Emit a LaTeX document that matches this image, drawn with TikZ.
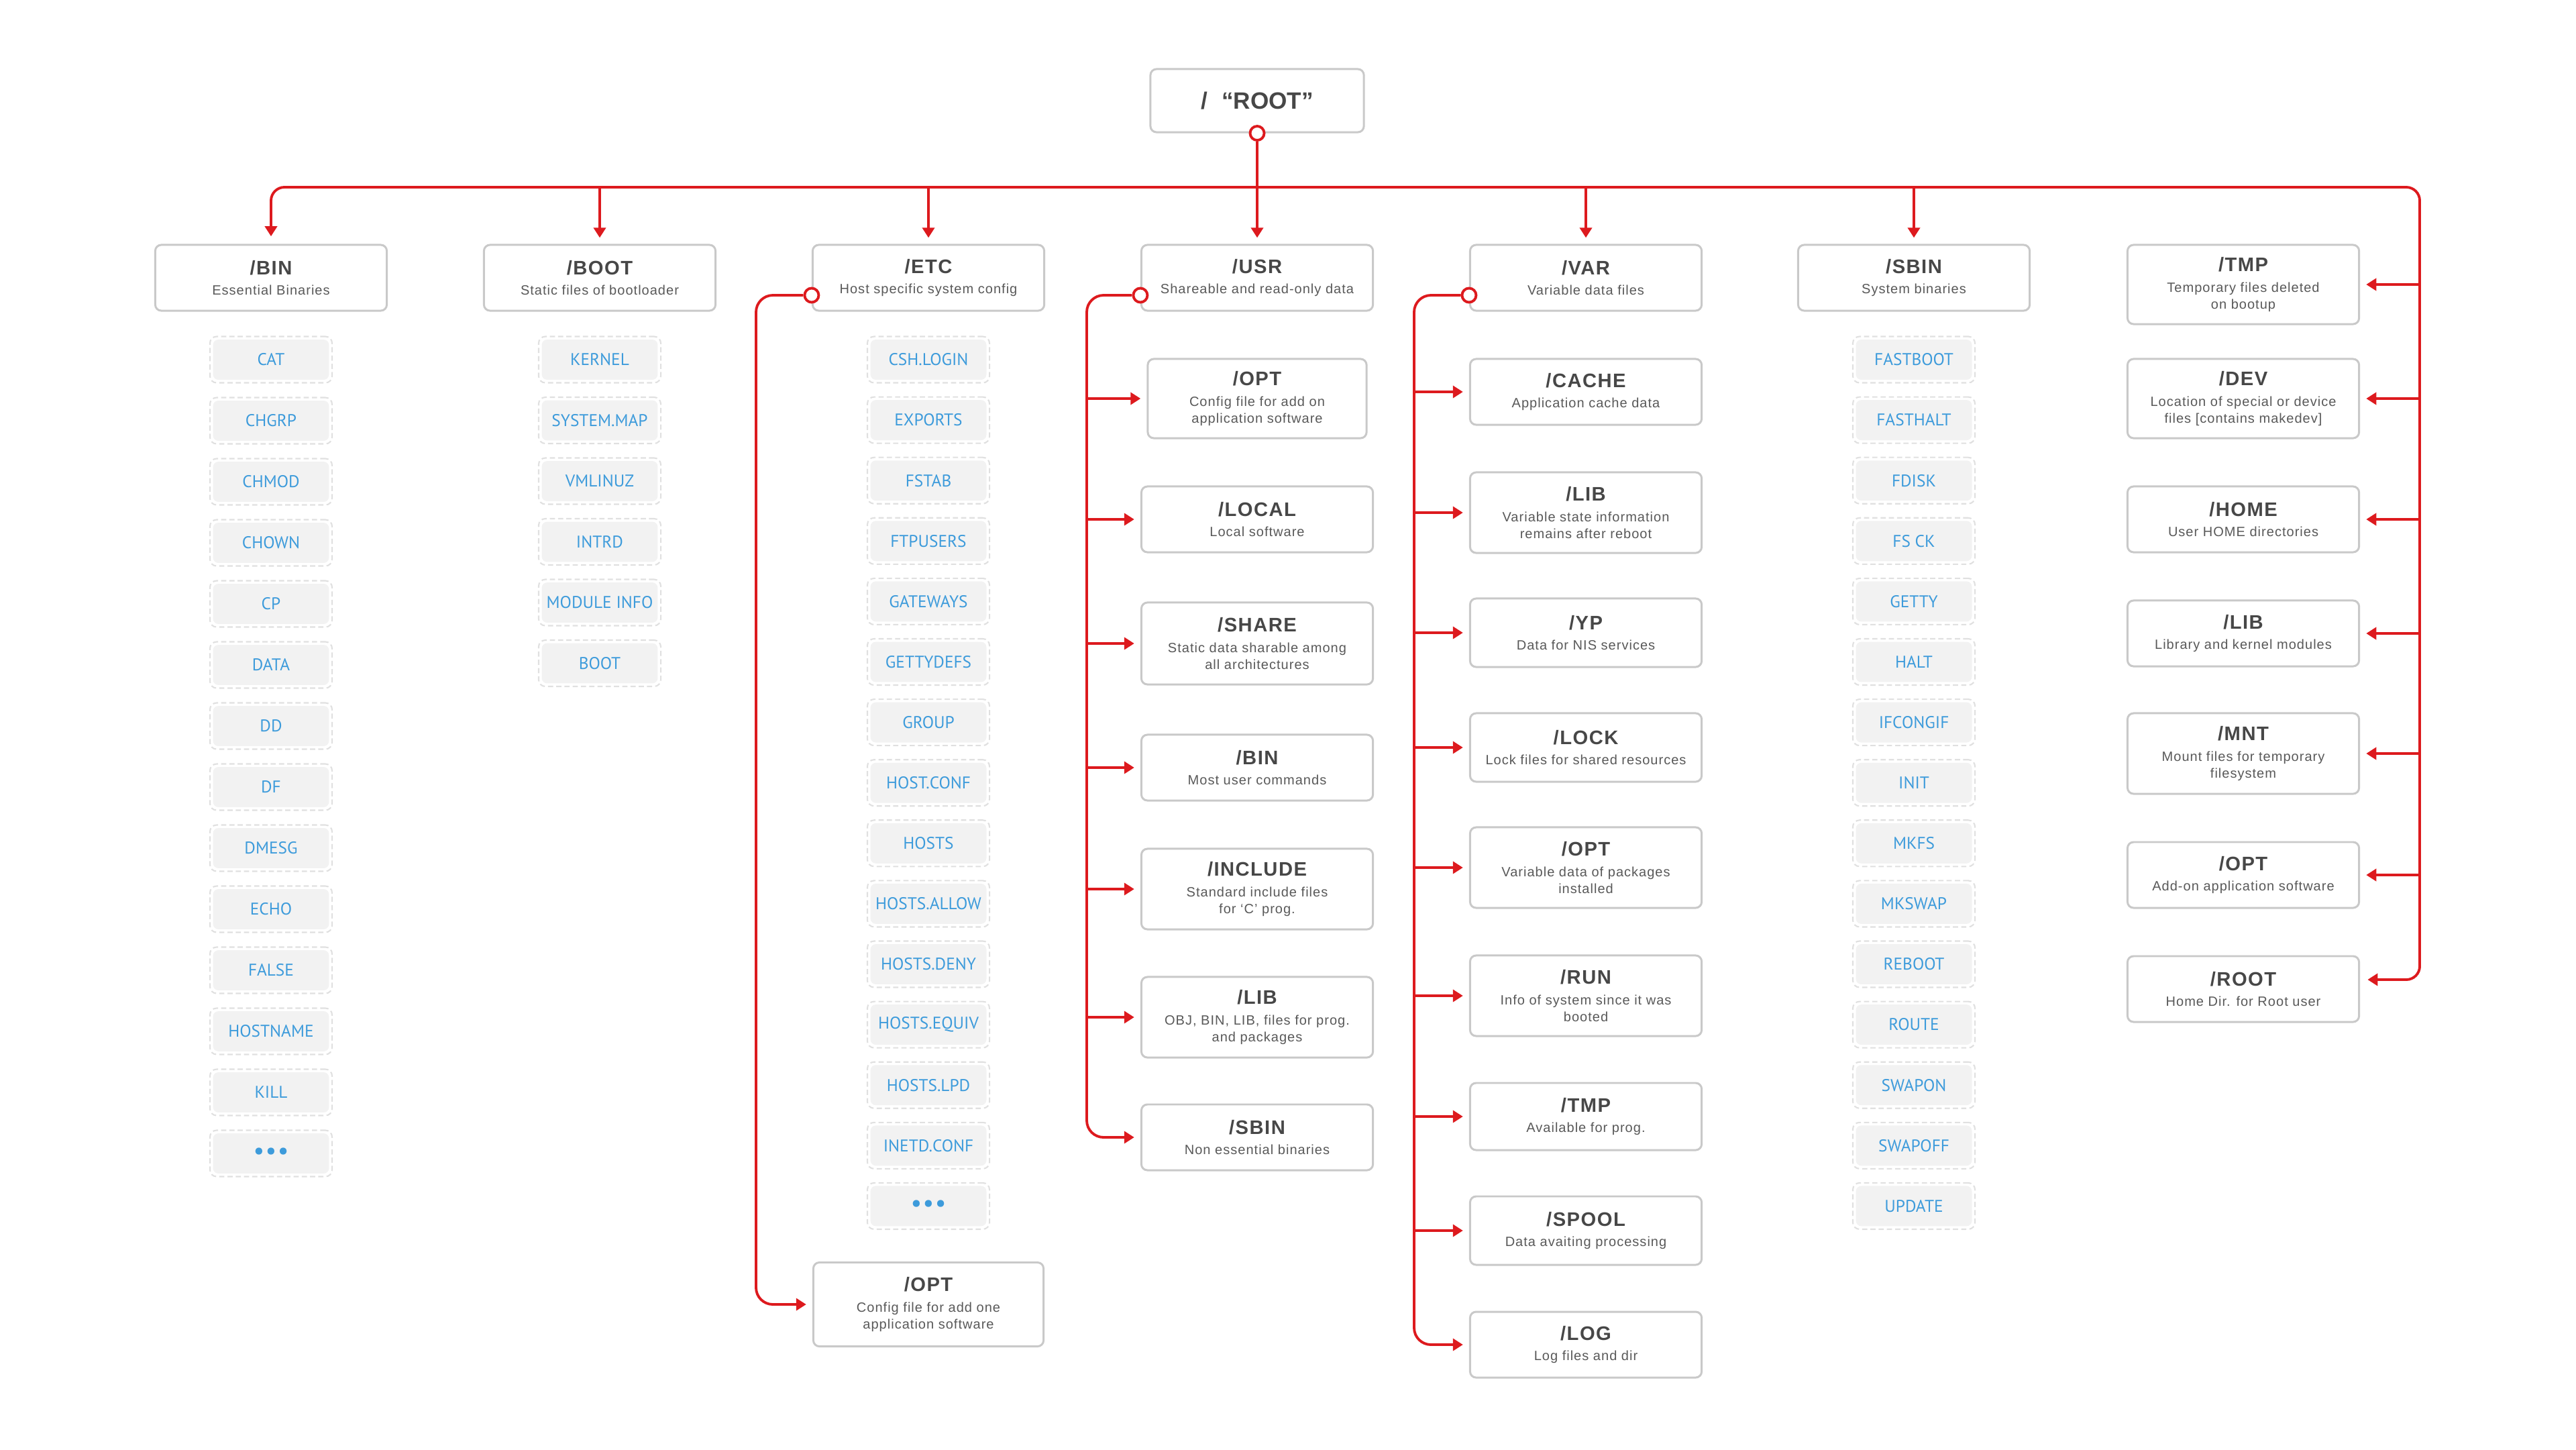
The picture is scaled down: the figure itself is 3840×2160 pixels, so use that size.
\documentclass[tikz,border=0pt]{standalone}
\usepackage{fontspec}
\setmainfont{Liberation Sans}
\newfontfamily\subfont[LetterSpace=5]{Liberation Sans}
\newfontfamily\itemfont{PT Sans}
\usetikzlibrary{arrows.meta}
\definecolor{rd}{HTML}{DD1A1E}
\definecolor{bordergray}{HTML}{C9C9C9}
\definecolor{ttlgray}{HTML}{474747}
\definecolor{subgray}{HTML}{595959}
\definecolor{itemblue}{HTML}{3D9BDB}
\definecolor{itemfill}{HTML}{F2F2F2}
\definecolor{itemdash}{HTML}{E0E0E0}
\newcommand\ttl[1]{{\fontsize{8.3}{8.3}\selectfont\bfseries\color{ttlgray}#1}\\[1.6pt]}
\newcommand\dotsym{{\fontsize{10.5}{10.5}\selectfont •\kern0.4pt•\kern0.4pt•}}
\tikzset{
  dirbox/.style={draw=bordergray, line width=0.85pt, rounded corners=0.09cm, fill=white,
    minimum width=3.45cm, minimum height=0.98cm, align=center, inner sep=0pt,
    text=subgray, font=\subfont\fontsize{5.7}{7.1}\selectfont},
  itembox/.style={draw=itemdash, dash pattern=on 2.2pt off 1.3pt, line width=0.6pt,
    rounded corners=0.1cm, minimum width=1.82cm, minimum height=0.69cm, inner sep=0pt,
    text=itemblue, font=\itemfont\fontsize{7.2}{7.2}\selectfont,
    path picture={\fill[itemfill, rounded corners=0.08cm]
      ([shift={(1.3pt,-1.3pt)}]path picture bounding box.north west) rectangle
      ([shift={(-1.3pt,1.3pt)}]path picture bounding box.south east);}},
  redline/.style={draw=rd, line width=1.1pt},
  arrowed/.style={-{Triangle[length=0.15cm,width=0.18cm]}, shorten >=2.6pt},
  arrowboth/.style={{Triangle[length=0.15cm,width=0.18cm]}-{Triangle[length=0.15cm,width=0.18cm]}, shorten >=3.2pt, shorten <=3.2pt},
  dot/.style={circle, draw=rd, fill=white, line width=1.1pt, minimum size=0.21cm, inner sep=0pt}
}
\begin{document}
\begin{tikzpicture}[x=0.01cm, y=-0.01cm]
\useasboundingbox (0,0) rectangle (3840,2160);

% root
\node[dirbox, minimum width=3.18cm, minimum height=0.94cm, font=\fontsize{10}{10}\selectfont\bfseries, text=ttlgray] (root) at (1874,150) {/\hspace{6pt}“ROOT”};

% top row
\node[dirbox] (bin) at (404,414) {\ttl{/BIN}Essential Binaries};
\node[dirbox] (boot) at (894,414) {\ttl{/BOOT}Static files of bootloader};
\node[dirbox] (etc) at (1384,414) {\ttl{/ETC}Host specific system config};
\node[dirbox] (usr) at (1874,414) {\ttl{/USR}Shareable and read-only data};
\node[dirbox] (var) at (2364,414) {\ttl{/VAR}Variable data files};
\node[dirbox] (sbin) at (2853,414) {\ttl{/SBIN}System binaries};

% right column
\node[dirbox, minimum height=1.18cm] (tmp) at (3344,424) {\ttl{/TMP}Temporary files deleted\\on bootup};
\node[dirbox, minimum height=1.18cm] (dev) at (3344,594) {\ttl{/DEV}Location of special or device\\files [contains makedev]};
\node[dirbox] (home) at (3344,774) {\ttl{/HOME}User HOME directories};
\node[dirbox] (rlib) at (3344,944) {\ttl{/LIB}Library and kernel modules};
\node[dirbox, minimum height=1.2cm] (mnt) at (3344,1123) {\ttl{/MNT}Mount files for temporary\\filesystem};
\node[dirbox] (ropt) at (3344,1304) {\ttl{/OPT}Add-on application software};
\node[dirbox] (rootdir) at (3344,1474) {\ttl{/ROOT}Home Dir. for Root user};

% usr children
\node[dirbox, minimum width=3.26cm, minimum height=1.18cm] (uopt) at (1874,594) {\ttl{/OPT}Config file for add on\\application software};
\node[dirbox] (ulocal) at (1874,774) {\ttl{/LOCAL}Local software};
\node[dirbox, minimum height=1.22cm] (ushare) at (1874,959) {\ttl{/SHARE}Static data sharable among\\all architectures};
\node[dirbox] (ubin) at (1874,1144) {\ttl{/BIN}Most user commands};
\node[dirbox, minimum height=1.2cm] (uinclude) at (1874,1325) {\ttl{/INCLUDE}Standard include files\\for ‘C’ prog.};
\node[dirbox, minimum height=1.2cm] (ulib) at (1874,1516) {\ttl{/LIB}OBJ, BIN, LIB, files for prog.\\and packages};
\node[dirbox] (usbin) at (1874,1695) {\ttl{/SBIN}Non essential binaries};

% var children
\node[dirbox] (vcache) at (2364,584) {\ttl{/CACHE}Application cache data};
\node[dirbox, minimum height=1.2cm] (vlib) at (2364,764) {\ttl{/LIB}Variable state information\\remains after reboot};
\node[dirbox, minimum height=1.02cm] (vyp) at (2364,943) {\ttl{/YP}Data for NIS services};
\node[dirbox, minimum height=1.02cm] (vlock) at (2364,1114) {\ttl{/LOCK}Lock files for shared resources};
\node[dirbox, minimum height=1.2cm] (vopt) at (2364,1293) {\ttl{/OPT}Variable data of packages\\installed};
\node[dirbox, minimum height=1.2cm] (vrun) at (2364,1484) {\ttl{/RUN}Info of system since it was\\booted};
\node[dirbox, minimum height=1.0cm] (vtmp) at (2364,1664) {\ttl{/TMP}Available for prog.};
\node[dirbox, minimum height=1.02cm] (vspool) at (2364,1834) {\ttl{/SPOOL}Data avaiting processing};
\node[dirbox] (vlog) at (2364,2004) {\ttl{/LOG}Log files and dir};

% etc opt
\node[dirbox, minimum width=3.43cm, minimum height=1.25cm] (eopt) at (1384,1944) {\ttl{/OPT}Config file for add one\\application software};

% item lists
\foreach \t [count=\i from 0] in {CAT,CHGRP,CHMOD,CHOWN,CP,DATA,DD,DF,DMESG,ECHO,FALSE,HOSTNAME,KILL,\dotsym}
  \node[itembox] (binf\i) at (404,536+91*\i) {\t};
\foreach \t [count=\i from 0] in {KERNEL,SYSTEM.MAP,VMLINUZ,INTRD,MODULE INFO,BOOT}
  \node[itembox] (bootf\i) at (894,536+90.5*\i) {\t};
\foreach \t [count=\i from 0] in {CSH.LOGIN,EXPORTS,FSTAB,FTPUSERS,GATEWAYS,GETTYDEFS,GROUP,HOST.CONF,HOSTS,HOSTS.ALLOW,HOSTS.DENY,HOSTS.EQUIV,HOSTS.LPD,INETD.CONF,\dotsym}
  \node[itembox] (etcf\i) at (1384,536+90.1*\i) {\t};
\foreach \t [count=\i from 0] in {FASTBOOT,FASTHALT,FDISK,FS CK,GETTY,HALT,IFCONGIF,INIT,MKFS,MKSWAP,REBOOT,ROUTE,SWAPON,SWAPOFF,UPDATE}
  \node[itembox] (sbinf\i) at (2853,536+90.1*\i) {\t};

% dots
\node[dot] (rootdot) at (root.south) {};
\node[dot] (etcdot) at ([yshift=-0.26cm]etc.west) {};
\node[dot] (usrdot) at ([yshift=-0.26cm]usr.west) {};
\node[dot] (vardot) at ([yshift=-0.26cm]var.west) {};

% connectors
\coordinate (tr) at (3607,279);
\coordinate (hl) at (1874,279);
\coordinate (etcx) at (1127,0);
\coordinate (usrx) at (1620,0);
\coordinate (varx) at (2108,0);

\draw[redline, arrowboth, rounded corners=0.2cm] (bin.north) |- (tr) |- ([yshift=0.14cm]rootdir.east);
\foreach \n in {boot,etc,var,sbin}
  \draw[redline, arrowed] (\n.north |- hl) -- (\n.north);
\draw[redline, arrowed] (rootdot.south) -- (usr.north);
\foreach \n in {tmp,dev,home,rlib,mnt,ropt}
  \draw[redline, arrowed] (\n.east -| tr) -- (\n.east);

\draw[redline, arrowed, rounded corners=0.25cm] (etcdot.west) -- (etcdot.west -| etcx) |- (eopt.west);
\draw[redline, arrowed, rounded corners=0.25cm] (usrdot.west) -- (usrdot.west -| usrx) |- (usbin.west);
\foreach \n in {uopt,ulocal,ushare,ubin,uinclude,ulib}
  \draw[redline, arrowed] (\n.west -| usrx) -- (\n.west);
\draw[redline, arrowed, rounded corners=0.25cm] (vardot.west) -- (vardot.west -| varx) |- (vlog.west);
\foreach \n in {vcache,vlib,vyp,vlock,vopt,vrun,vtmp,vspool}
  \draw[redline, arrowed] (\n.west -| varx) -- (\n.west);
\end{tikzpicture}
\end{document}
